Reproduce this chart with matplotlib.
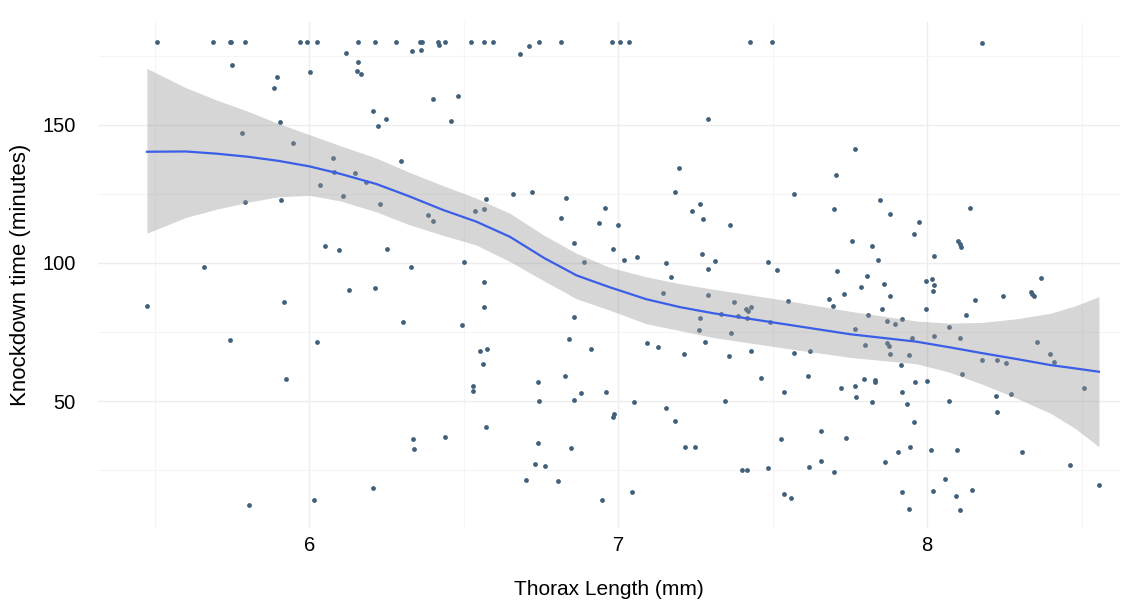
import matplotlib
matplotlib.use("Agg")
import matplotlib.pyplot as plt

# thorax length (mm) and knockdown time (min)
thorax = [
    # censored at 180
    5.507, 5.687, 5.743, 5.746, 5.791, 5.969, 5.992, 6.024, 6.156, 6.212,
    6.280, 6.358, 6.366, 6.417, 6.420, 6.439, 6.522, 6.564, 6.595, 6.710,
    6.742, 6.816, 6.980, 7.005, 7.035, 7.426, 7.499, 8.179,
    # left part
    5.748, 5.894, 5.886, 5.905, 5.783, 5.948, 5.791, 5.907, 6.034, 5.660,
    6.002, 5.473, 5.917, 5.743, 6.023, 5.923, 5.804, 6.015,
    6.120, 6.331, 6.360, 6.683, 6.156, 6.153, 6.166, 6.399, 6.480, 6.206,
    6.248, 6.223, 6.459, 6.077, 6.298, 6.079, 6.147, 6.183, 6.109, 6.228,
    6.384, 6.399, 6.573, 6.536, 6.566, 6.658, 6.721, 6.832, 6.813, 6.857,
    6.888, 6.052, 6.095, 6.252, 6.328, 6.500,
    # upper middle
    7.291, 7.195, 7.766, 7.185, 7.704, 7.569, 6.956, 7.266, 7.237, 7.273,
    6.938, 6.998, 7.360, 7.697, 7.758, 6.982, 7.017, 7.061, 7.153, 7.270,
    7.312, 7.289, 7.485, 7.515, 7.709, 7.171,
    7.846, 7.878, 7.972, 7.956, 8.137, 7.820, 7.842, 8.021, 8.100, 8.105,
    8.111,
    # lower left/middle
    6.128, 6.213, 6.566, 6.566, 6.303, 6.494, 6.857, 6.839, 6.912, 6.553,
    6.574, 6.561, 6.529, 6.529, 6.739, 6.744, 6.828, 6.878, 6.856, 6.571,
    6.336, 6.338, 6.438, 6.739, 6.846, 6.731, 6.763, 6.700, 6.806, 6.206,
    7.145, 7.289, 7.375, 7.548, 7.682, 7.731, 7.695, 7.413, 7.420, 7.431,
    7.334, 7.388, 7.415, 7.266, 7.490, 7.262, 7.364, 7.280, 7.092, 7.129,
    7.213, 7.359, 7.428, 7.569, 7.621, 7.463, 7.613, 7.721, 6.960, 7.537,
    7.050, 7.347, 7.153, 6.983, 6.986, 7.185, 7.215, 7.248, 7.527, 7.655,
    7.736, 7.402, 7.415, 7.485, 7.616, 7.655, 7.697, 7.043, 6.946, 7.537,
    7.558,
    # right part
    7.805, 7.787, 7.859, 7.879, 7.995, 8.017, 8.021, 8.019, 8.155, 8.247,
    8.335, 8.340, 8.345, 8.370, 7.854, 7.996, 8.126, 7.808, 7.870, 7.897,
    7.917, 7.765, 7.800, 7.870, 7.876, 7.951, 8.022, 8.069, 8.105, 7.881,
    7.940, 7.914, 8.176, 8.227, 8.254, 8.355, 8.396, 8.410, 8.114, 7.797,
    7.830, 7.832, 7.765, 7.768, 7.960, 7.998, 7.820, 7.920, 7.936, 8.072,
    8.224, 8.270, 8.227, 7.956, 8.506, 7.943, 7.904, 7.862, 8.011, 8.095,
    8.307, 8.461, 8.057, 7.920, 8.019, 8.092, 8.145, 7.940, 8.105, 8.556,
]
knockdown = [
    180.2, 180.2, 180.2, 180.2, 180.2, 180.2, 180.2, 180.2, 180.2, 180.2,
    180.2, 180.2, 180.2, 180.2, 179.0, 180.2, 180.2, 180.2, 180.2, 178.7,
    180.2, 180.2, 180.2, 180.2, 180.2, 180.2, 180.2, 179.6,
    171.7, 167.3, 163.5, 151.0, 147.2, 143.4, 122.1, 122.8, 128.3, 98.7,
    169.1, 84.4, 85.8, 72.1, 71.5, 58.0, 12.4, 14.1,
    176.2, 176.9, 177.3, 175.6, 172.9, 169.7, 168.4, 159.5, 160.6, 155.2,
    152.2, 149.6, 151.4, 138.2, 137.0, 133.1, 132.6, 129.2, 124.4, 121.3,
    117.4, 115.3, 123.2, 118.8, 119.5, 125.0, 125.6, 123.4, 116.2, 107.1,
    100.5, 106.3, 104.6, 105.1, 98.7, 100.5,
    152.1, 134.4, 141.4, 125.6, 131.8, 125.0, 120.0, 121.5, 118.8, 115.8,
    114.5, 113.9, 113.9, 119.5, 107.9, 105.2, 101.1, 102.2, 100.1, 103.4,
    100.7, 97.8, 100.5, 97.6, 97.2, 94.8,
    122.9, 117.6, 114.7, 110.4, 120.0, 106.3, 101.1, 102.4, 108.0, 106.9,
    105.9,
    90.2, 91.1, 93.1, 84.1, 78.7, 77.5, 80.4, 72.6, 69.0, 68.0,
    68.7, 63.5, 55.4, 53.7, 56.9, 50.1, 59.2, 53.0, 50.5, 40.5,
    36.1, 32.6, 37.1, 34.7, 32.9, 27.1, 26.4, 21.5, 20.9, 18.5,
    89.0, 88.4, 85.8, 86.3, 87.0, 88.8, 84.4, 83.3, 82.7, 84.2,
    81.4, 80.9, 80.2, 80.2, 78.7, 75.8, 74.7, 71.3, 70.9, 69.7,
    67.0, 66.4, 68.0, 67.4, 68.0, 58.3, 58.9, 54.6, 53.4, 53.4,
    49.5, 50.1, 47.3, 44.3, 45.2, 42.8, 33.2, 33.2, 36.3, 39.0,
    36.7, 25.0, 25.0, 25.6, 26.2, 28.3, 24.4, 17.1, 14.1, 16.3,
    14.7,
    95.4, 91.4, 92.3, 88.2, 93.5, 94.1, 92.0, 89.9, 86.6, 88.2,
    89.4, 88.8, 88.2, 94.7, 83.2, 83.2, 81.2, 81.2, 79.0, 77.8,
    79.6, 76.0, 70.3, 71.1, 69.9, 72.7, 73.6, 76.7, 72.7, 67.0,
    66.7, 63.0, 64.9, 64.9, 63.9, 71.5, 67.1, 64.2, 59.7, 58.0,
    57.6, 57.0, 55.4, 51.6, 56.9, 57.2, 49.5, 53.3, 48.8, 50.1,
    51.9, 52.5, 46.0, 42.3, 54.8, 33.4, 31.4, 27.9, 32.2, 32.2,
    31.4, 26.8, 21.7, 17.1, 17.4, 15.6, 17.6, 10.8, 10.5, 19.5,
]

# loess fit and its confidence band
fit_x = [5.474, 5.6, 5.7, 5.8, 5.9, 6.0, 6.1, 6.217, 6.32, 6.433, 6.54,
         6.649, 6.76, 6.865, 6.97, 7.09, 7.2, 7.307, 7.523, 7.75, 7.965,
         8.07, 8.18, 8.29, 8.4, 8.48, 8.556]
fit_y = [140.3, 140.4, 139.6, 138.5, 137.0, 135.0, 132.3, 128.6, 124.3,
         119.2, 115.0, 109.5, 101.8, 95.5, 91.3, 86.9, 84.0, 81.8, 78.1,
         74.2, 71.5, 69.5, 67.3, 65.2, 63.0, 61.8, 60.6]
fit_hi = [170.5, 163.5, 159.0, 155.0, 150.5, 146.5, 142.5, 138.0, 133.0,
          128.0, 123.5, 118.0, 110.0, 103.5, 98.5, 95.0, 92.5, 90.5, 86.8,
          82.5, 79.0, 78.2, 78.5, 79.8, 81.8, 84.5, 87.8]
fit_lo = [110.8, 116.5, 119.5, 122.0, 124.0, 124.5, 122.5, 118.5, 114.0,
          110.0, 106.5, 100.5, 93.5, 87.0, 83.0, 78.0, 75.5, 73.0, 69.4,
          65.8, 63.5, 60.5, 56.0, 51.0, 45.5, 40.0, 33.4]

plt.rcParams['font.family'] = ['Liberation Sans', 'DejaVu Sans']

fig = plt.figure(figsize=(11.46, 6.08), dpi=100)
ax = fig.add_axes([0.0855, 0.1316, 0.8915, 0.8322])

ax.scatter(thorax, knockdown, s=12, color='#41607c', linewidths=0, zorder=2)
ax.fill_between(fit_x, fit_lo, fit_hi, color='#999999', alpha=0.4,
                linewidth=0, zorder=3)
ax.plot(fit_x, fit_y, color='#3a5ee6', linewidth=1.6, zorder=4)

ax.set_xlim(5.3155, 8.623)
ax.set_ylim(4.0, 187.3)
ax.set_xticks([6, 7, 8])
ax.set_yticks([50, 100, 150])
ax.set_xticks([5.5, 6.5, 7.5, 8.5], minor=True)
ax.set_yticks([25, 75, 125, 175], minor=True)
ax.grid(which='major', color='#ededed', linewidth=1.0, zorder=0)
ax.grid(which='minor', color='#f5f5f5', linewidth=0.8, zorder=0)
ax.set_axisbelow(True)

for s in ax.spines.values():
    s.set_visible(False)
ax.tick_params(which='both', length=0)
ax.tick_params(axis='y', labelsize=14.5, pad=16)
ax.tick_params(axis='x', labelsize=14.5, pad=6)

ax.set_xlabel('Thorax Length (mm)', fontsize=15, labelpad=18)
ax.set_ylabel('Knockdown time (minutes)', fontsize=16, labelpad=8)

fig.savefig('out.png', dpi=100, facecolor='white')
